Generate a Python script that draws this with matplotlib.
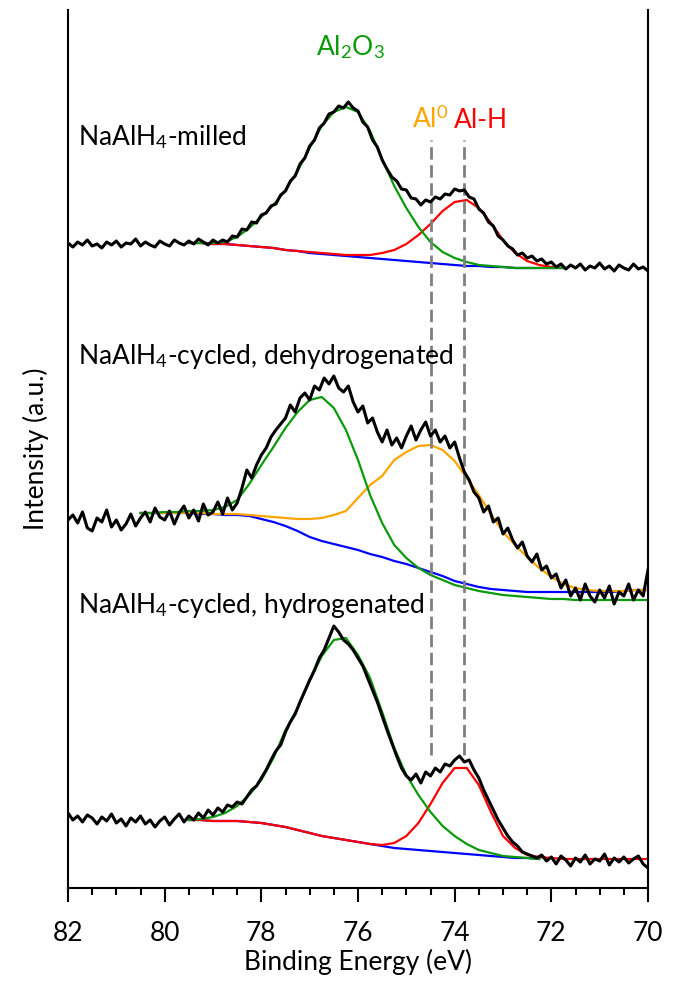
import numpy as np
import matplotlib
matplotlib.use('Agg')
import matplotlib.pyplot as plt
from matplotlib.ticker import MultipleLocator

plt.rcParams['font.family'] = ['Lato', 'DejaVu Sans']
plt.rcParams['mathtext.fontset'] = 'custom'
plt.rcParams['mathtext.rm'] = 'Lato'
plt.rcParams['mathtext.it'] = 'Lato:italic'
plt.rcParams['mathtext.bf'] = 'Lato:bold'

# Energia de enlace (eV) de los espectros medidos
energia = np.linspace(82.0, 70.0, 121)

# Espectros (intensidad con desplazamiento vertical, u.a.)
milled = [645, 641, 646, 643, 648, 642, 644, 640, 646, 643, 647, 641, 645, 644, 649, 642,
          646, 643, 641, 647, 644, 642, 648, 645, 643, 647, 644, 649, 646, 643, 648, 645,
          648, 646, 652, 651, 659, 658, 666, 665, 673, 675, 682, 684, 693, 697, 707, 712,
          724, 730, 742, 748, 760, 765, 774, 776, 782, 780, 786, 780, 777,
          766, 761, 748, 741, 728, 719, 711, 707, 699, 698, 690, 689, 683, 688, 686, 691,
          689, 694, 693, 699, 697, 698, 691, 689, 679, 675, 666, 662, 652, 648,
          642, 639, 633, 635, 630, 632, 627, 629, 624, 626, 621, 624, 619, 623, 620, 624,
          618, 622, 620, 625, 619, 622, 617, 623, 620, 618, 624, 619, 621, 617]

dehyd = [368, 373, 365, 376, 360, 357, 370, 366, 378, 361,
         368, 358, 364, 374, 362, 370, 376, 366, 380, 371,
         368, 377, 364, 375, 382, 370, 378, 367, 384, 373,
         376, 386, 374, 390, 378, 385, 400, 418, 410, 423,
         433, 440, 451, 458, 464, 470, 483, 476, 490, 495,
         488, 502, 498, 510, 504, 512, 500, 496, 502, 486,
         476, 482, 465, 470, 456, 446, 458, 443, 450, 440,
         452, 462, 448, 458, 466, 452, 458, 446, 452, 440,
         446, 430, 416, 408, 396, 390, 376, 382, 366, 370,
         354, 360, 348, 340, 346, 332, 326, 334, 318, 322,
         310, 314, 300, 308, 292, 300, 288, 304, 292, 286,
         298, 290, 302, 284, 296, 292, 304, 288, 298, 292,
         318]

hyd = [75, 68, 72, 66, 73, 70, 64, 71, 67, 74,
       65, 69, 62, 70, 66, 72, 64, 68, 61, 67,
       71, 63, 69, 74, 66, 72, 68, 75, 70, 78,
       73, 80, 76, 83, 81, 86, 84, 91, 98, 102,
       110, 118, 128, 137, 143, 156, 166, 174, 186, 197,
       208, 218, 230, 238, 250, 262, 256, 248, 244, 238,
       230, 222, 210, 198, 186, 172, 158, 145, 132, 120,
       112, 108, 114, 105, 116, 112, 120, 116, 124, 122,
       128, 132, 126, 128, 118, 110, 98, 88, 78, 68,
       60, 52, 46, 42, 36, 34, 32, 30, 33, 27,
       31, 24, 32, 28, 22, 30, 26, 33, 24, 29,
       27, 34, 23, 30, 26, 31, 25, 29, 32, 24,
       20]

# Componentes del ajuste - NaAlH4 molido
e_fit_milled = np.linspace(79.5, 71.75, 32)
bg_milled = [645, 645, 644, 644, 643, 642, 641, 640, 638, 637, 635, 634, 633, 632, 631, 630,
             629, 628, 627, 626, 625, 624, 623, 622, 622, 621, 621, 620, 620, 620, 620, 620]
alh_milled = [645, 645, 644, 644, 643, 642, 641, 640, 638, 637, 636, 635, 634, 633, 633, 633,
              635, 638, 644, 653, 664, 677, 686, 688, 680, 665, 648, 635, 627, 623, 621, 620]
al2o3_milled = [645, 645, 645, 646, 651, 660, 671, 683, 698, 717, 740, 762, 776, 781, 776, 757,
                729, 702, 680, 661, 646, 636, 630, 626, 623, 622, 621, 620, 620, 620, 620, 620]

# Componentes del ajuste - ciclado, deshidrogenado
e_fit_dehyd = np.linspace(80.5, 70.0, 43)
bg_dehyd = [375, 375, 375, 375, 375, 374, 374, 373, 373, 372, 369, 366, 362, 357, 351, 347,
            344, 341, 338, 334, 331, 327, 324, 320, 316, 312, 307, 304, 301, 299, 298, 297,
            296, 296, 296, 296, 296, 296, 296, 296, 297, 298, 298]
al0_dehyd = [375, 375, 375, 375, 375, 375, 374, 374, 374, 373, 372, 371, 370, 369, 369, 370,
             373, 377, 390, 403, 412, 428, 436, 442, 443, 438, 427, 410, 393, 374, 356, 343,
             331, 320, 311, 304, 300, 298, 297, 297, 297, 298, 298]
al2o3_dehyd = [375, 375, 376, 376, 377, 377, 378, 381, 388, 404, 423, 441, 460, 476, 488, 491,
               480, 458, 428, 393, 365, 343, 330, 320, 313, 308, 303, 300, 297, 295, 293, 292,
               291, 290, 289, 289, 288, 288, 288, 288, 288, 288, 288]

# Componentes del ajuste - ciclado, hidrogenado
e_fit_hyd = np.linspace(79.5, 70.0, 39)
alh_hyd = [68, 68, 67, 67, 67, 66, 65, 63, 61, 58, 55, 52, 50, 48, 46, 44, 43, 45, 52, 65,
           84, 105, 120, 120, 103, 76, 52, 40, 33, 31, 30, 29, 29, 29, 29, 29, 29, 29, 29]
bg_hyd = [68, 68, 67, 67, 67, 66, 65, 63, 61, 58, 55, 52, 50, 48, 46, 44, 42, 40, 39, 38,
          37, 36, 35, 34, 33, 32, 31, 30, 30, 29]
al2o3_hyd = [68, 69, 71, 75, 82, 93, 108, 130, 158, 180, 207, 232, 248, 250, 233, 210, 176, 140,
             113, 93, 76, 62, 52, 44, 38, 35, 32, 31, 30, 29]

# Posiciones de referencia Al0 y Al-H
pos_al0 = 74.5
pos_alh = 73.8

verde = '#0A9A0A'
rojo = '#FF0000'
naranja = '#FFA500'
azul = '#0000FF'

fig = plt.figure(figsize=(6.75, 9.81), dpi=100)
ax = fig.add_axes([68/675, 1 - 888/981, 580/675, 878/981])

# Ajustes
lw_c = 1.6
ax.plot(e_fit_milled, bg_milled, color=azul, lw=lw_c)
ax.plot(e_fit_milled, alh_milled, color=rojo, lw=lw_c)
ax.plot(e_fit_milled, al2o3_milled, color=verde, lw=lw_c)

ax.plot(e_fit_dehyd, bg_dehyd, color=azul, lw=lw_c)
ax.plot(e_fit_dehyd, al0_dehyd, color=naranja, lw=lw_c)
ax.plot(e_fit_dehyd, al2o3_dehyd, color=verde, lw=lw_c)

ax.plot(e_fit_hyd[:len(bg_hyd)], bg_hyd, color=azul, lw=lw_c)
ax.plot(e_fit_hyd, alh_hyd, color=rojo, lw=lw_c)
ax.plot(e_fit_hyd[:len(al2o3_hyd)], al2o3_hyd, color=verde, lw=lw_c)

# Lineas de referencia
for pos in [pos_al0, pos_alh]:
    ax.plot([pos, pos], [133, 748], color='#808080', lw=2, linestyle=(0, (4.5, 2)))

# Datos medidos
for espectro in [milled, dehyd, hyd]:
    ax.plot(energia, espectro, color='black', lw=2.2)

# Etiquetas
fs = 19
ax.text(81.8, 743, r'NaAlH$_4$-milled', fontsize=fs, va='baseline')
ax.text(81.8, 524, r'NaAlH$_4$-cycled, dehydrogenated', fontsize=fs, va='baseline')
ax.text(81.8, 275, r'NaAlH$_4$-cycled, hydrogenated', fontsize=fs, va='baseline')
ax.text(76.15, 833, r'Al$_2$O$_3$', fontsize=fs, color=verde, ha='center', va='baseline')
ax.text(74.88, 760, r'Al$^0$', fontsize=fs, color=naranja, va='baseline')
ax.text(74.01, 760, 'Al-H', fontsize=fs, color=rojo, va='baseline')

ax.set_xlim(82, 70)
ax.set_ylim(0, 878)
ax.spines['top'].set_visible(False)
for s in ['left', 'right', 'bottom']:
    ax.spines[s].set_linewidth(1.5)
ax.set_yticks([])
ax.xaxis.set_major_locator(MultipleLocator(2))
ax.xaxis.set_minor_locator(MultipleLocator(0.5))
ax.tick_params(axis='x', which='major', direction='out', length=10, width=1.5, labelsize=fs, pad=14)
ax.tick_params(axis='x', which='minor', direction='out', length=5, width=1.5)
ax.set_xlabel('Binding Energy (eV)', fontsize=fs, labelpad=2)
ax.set_ylabel('Intensity (a.u.)', fontsize=fs, labelpad=14)

plt.savefig('out.png', dpi=100)
